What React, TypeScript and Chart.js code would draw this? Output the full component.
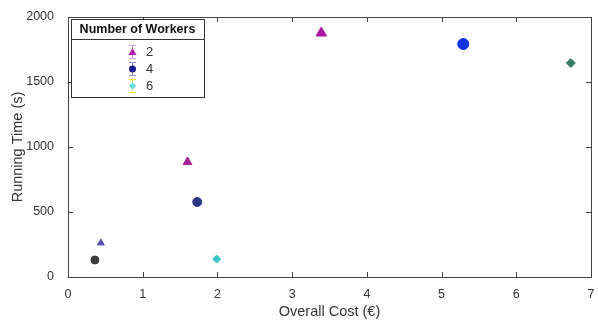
import React, { useEffect, useRef } from 'react';
import { Chart, registerables } from 'chart.js';

Chart.register(...registerables);

// ---- data ----
const workerLabels = ['2', '4', '6'];
const costW2 = [0.44, 1.6, 3.39];
const timeW2 = [262, 885, 1877];
const costW4 = [0.36, 1.73, 5.29];
const timeW4 = [131, 577, 1792];
const costW6 = [1.99, 6.73];
const timeW6 = [138, 1646];
const xTicks = [0, 1, 2, 3, 4, 5, 6, 7];
const yTicks = [0, 500, 1000, 1500, 2000];

// ---- styles ----
const colorsW2 = ['#5a4fb0', '#a3208f', '#a8169c'];
const colorsW4 = ['#3c3c3c', '#2a3480', '#1232e0'];
const colorsW6 = ['#35c4c4', '#3c7a68'];
const radiiW2 = [4, 5, 6];
const radiiW4 = [4, 4.5, 5.5];
const radiiW6 = [4, 4.5];
const FONT = '"Liberation Sans", Arial, Helvetica, sans-serif';

const boxPlugin = {
  id: 'matlabBox',
  afterDraw(chart: any) {
    const { ctx, chartArea: a, scales } = chart;
    ctx.save();
    ctx.strokeStyle = '#444';
    ctx.lineWidth = 1;
    ctx.strokeRect(Math.round(a.left) + 0.5, Math.round(a.top) + 0.5, Math.round(a.right - a.left), Math.round(a.bottom - a.top));
    ctx.beginPath();
    const tl = 5;
    xTicks.forEach((v) => {
      const x = Math.round(scales.x.getPixelForValue(v)) + 0.5;
      ctx.moveTo(x, a.bottom); ctx.lineTo(x, a.bottom - tl);
      ctx.moveTo(x, a.top); ctx.lineTo(x, a.top + tl);
    });
    yTicks.forEach((v) => {
      const y = Math.round(scales.y.getPixelForValue(v)) + 0.5;
      ctx.moveTo(a.left, y); ctx.lineTo(a.left + tl, y);
      ctx.moveTo(a.right, y); ctx.lineTo(a.right - tl, y);
    });
    ctx.stroke();

    // legend
    const lx = 71, ly = 19, lw = 133, lh = 78;
    ctx.fillStyle = '#fff';
    ctx.fillRect(lx, ly, lw, lh);
    ctx.strokeStyle = '#333';
    ctx.strokeRect(lx + 0.5, ly + 0.5, lw, lh);
    ctx.beginPath();
    ctx.moveTo(lx, ly + 20.5); ctx.lineTo(lx + lw, ly + 20.5);
    ctx.stroke();
    ctx.fillStyle = '#111';
    ctx.font = 'bold 12.5px ' + FONT;
    ctx.textAlign = 'center';
    ctx.textBaseline = 'middle';
    ctx.fillText('Number of Workers', lx + lw / 2, ly + 10.5);

    const rowsY = [52, 69, 86];
    const iconX = 132;
    const barColors = ['#c9a0e8', '#8a90c8', '#f0e040'];
    const mkColors = ['#b020b0', '#1a1a90', '#60e0e8'];
    rowsY.forEach((y, i) => {
      ctx.strokeStyle = barColors[i];
      ctx.lineWidth = 1;
      ctx.beginPath();
      ctx.moveTo(iconX + 0.5, y - 7); ctx.lineTo(iconX + 0.5, y + 7);
      ctx.moveTo(iconX - 3, y - 6.5); ctx.lineTo(iconX + 4, y - 6.5);
      ctx.moveTo(iconX - 3, y + 6.5); ctx.lineTo(iconX + 4, y + 6.5);
      ctx.stroke();
      ctx.fillStyle = mkColors[i];
      ctx.beginPath();
      if (i === 0) {
        ctx.moveTo(iconX + 0.5, y - 4); ctx.lineTo(iconX + 4.5, y + 3); ctx.lineTo(iconX - 3.5, y + 3); ctx.closePath();
      } else if (i === 1) {
        ctx.arc(iconX + 0.5, y, 3.5, 0, Math.PI * 2);
      } else {
        ctx.moveTo(iconX + 0.5, y - 3.5); ctx.lineTo(iconX + 4, y); ctx.lineTo(iconX + 0.5, y + 3.5); ctx.lineTo(iconX - 3, y); ctx.closePath();
      }
      ctx.fill();
      ctx.fillStyle = '#333';
      ctx.font = '13px ' + FONT;
      ctx.textAlign = 'left';
      ctx.fillText(workerLabels[i], 146, y + 0.5);
    });
    ctx.restore();
  },
};

function pts(xs: number[], ys: number[]) {
  return xs.map((x, i) => ({ x, y: ys[i] }));
}

export default function App() {
  const ref = useRef<HTMLCanvasElement>(null);
  useEffect(() => {
    document.body.style.margin = '0';
    const chart = new Chart(ref.current!, {
      type: 'scatter',
      data: {
        datasets: [
          {
            label: workerLabels[0],
            data: pts(costW2, timeW2),
            pointStyle: 'triangle',
            pointRadius: radiiW2,
            backgroundColor: colorsW2,
            borderColor: colorsW2,
            borderWidth: 1,
          },
          {
            label: workerLabels[1],
            data: pts(costW4, timeW4),
            pointStyle: 'circle',
            pointRadius: radiiW4,
            backgroundColor: colorsW4,
            borderColor: colorsW4,
            borderWidth: 1,
          },
          {
            label: workerLabels[2],
            data: pts(costW6, timeW6),
            pointStyle: 'rectRot',
            pointRadius: radiiW6,
            backgroundColor: colorsW6,
            borderColor: colorsW6,
            borderWidth: 1,
          },
        ] as any,
      },
      options: {
        animation: false,
        responsive: false,
        layout: { padding: { left: 0, right: -2, top: 17, bottom: 0 } },
        plugins: { legend: { display: false }, tooltip: { enabled: false } },
        scales: {
          x: {
            type: 'linear',
            min: 0,
            max: 7,
            afterBuildTicks: (s: any) => { s.ticks = xTicks.map((v) => ({ value: v })); },
            afterFit: (s: any) => { s.height = 47; },
            grid: { display: false },
            border: { display: false },
            ticks: { color: '#333', font: { family: FONT, size: 12.5 }, padding: 2, callback: (v: any) => String(v) },
            title: { display: true, text: 'Overall Cost (€)', color: '#333', font: { family: FONT, size: 14.5 }, padding: { top: 0, bottom: 3 } },
          },
          y: {
            type: 'linear',
            min: 0,
            max: 2000,
            afterBuildTicks: (s: any) => { s.ticks = yTicks.map((v) => ({ value: v })); },
            afterFit: (s: any) => { s.width = 68; },
            grid: { display: false },
            border: { display: false },
            ticks: { color: '#333', font: { family: FONT, size: 12.5 }, padding: 6, callback: (v: any) => String(v) },
            title: { display: true, text: 'Running Time (s)', color: '#333', font: { family: FONT, size: 14.5 }, padding: { top: 9, bottom: 0 } },
          },
        },
      },
      plugins: [boxPlugin],
    });
    return () => chart.destroy();
  }, []);
  return (
    <div style={{ width: 598, height: 324 }}>
      <canvas ref={ref} width={598} height={324} style={{ display: 'block' }} />
    </div>
  );
}
